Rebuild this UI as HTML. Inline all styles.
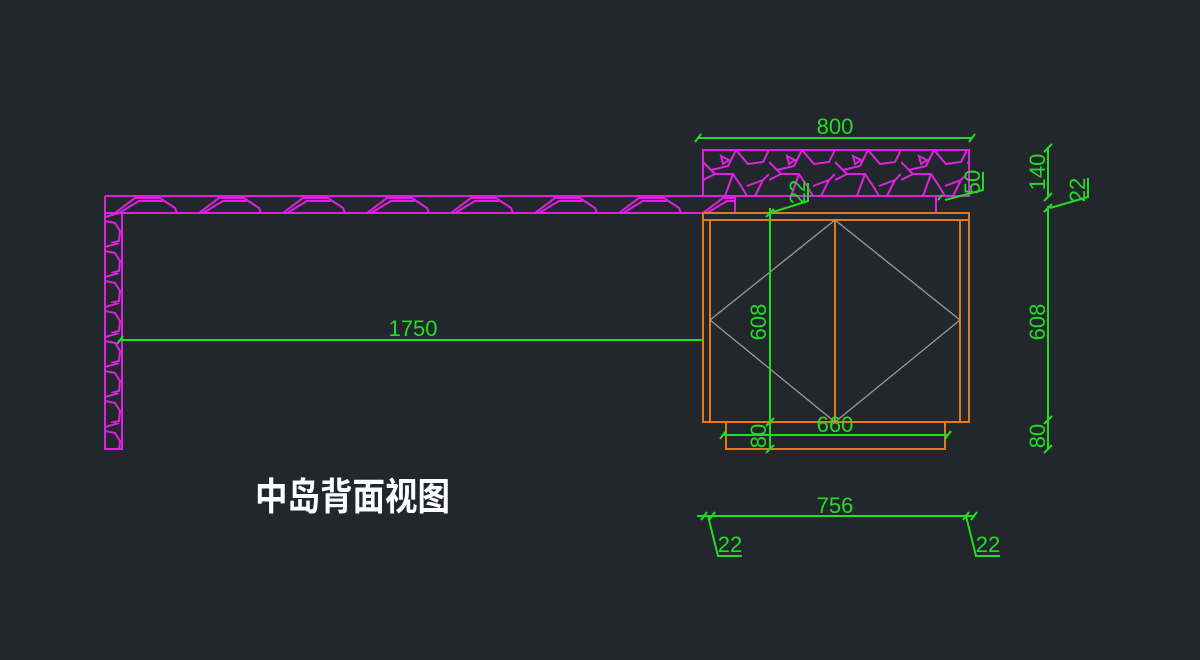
<!DOCTYPE html>
<html><head><meta charset="utf-8"><style>
html,body{margin:0;padding:0;background:#22272e;width:1200px;height:660px;overflow:hidden}
svg{display:block}
.g{stroke:#22dd22;stroke-width:2;fill:none}
.gt{fill:#22dd22;font-family:"Liberation Sans",sans-serif;font-size:22px}
.m{stroke:#dd22dd;stroke-width:2;fill:none}
.o{stroke:#e07a1c;stroke-width:2;fill:none}
</style></head><body>
<svg width="1200" height="660" viewBox="0 0 1200 660">
<defs>
<pattern id="lp" x="105" y="196" width="84" height="17" patternUnits="userSpaceOnUse">
<path class="m" d="M10 17 L30 2 L55 2 L70 12 L72 17 M14 17 L34 5 L58 5 M84 0 L84 0" stroke-width="1.6"/>
</pattern>
<pattern id="tp" x="703" y="150" width="66" height="46" patternUnits="userSpaceOnUse">
<path class="m" stroke-width="1.6" d="M0 12 L8 20 L25 16 L33 0 M33 0 L45 14 L60 12 L66 0 M0 30 L12 24 L30 24 L38 36 L44 46 M30 24 L22 46 M44 36 L60 30 L66 24 M52 46 L60 30 M8 20 L12 24 M18 6 L26 10 L20 14 Z"/>
</pattern>
<pattern id="vp" x="105" y="213" width="17" height="30" patternUnits="userSpaceOnUse">
<path class="m" stroke-width="1.6" d="M0 4 L14 0 M0 8 L10 10 L15 18 L14 28 L6 30"/>
</pattern>
</defs>
<!-- magenta countertop -->
<rect x="105" y="196" width="630" height="17" fill="url(#lp)"/>
<path class="m" d="M105 196 H703 M105 213 H735 V196 M105 196 V449 H122 V213"/>
<rect x="105" y="213" width="17" height="236" fill="url(#vp)"/>
<rect x="703" y="150" width="266" height="46" fill="url(#tp)"/>
<rect class="m" x="703" y="150" width="266" height="46"/>
<path class="m" d="M936 196 V213 M703 196 H936"/>
<!-- orange cabinet -->
<rect class="o" x="703" y="213" width="266" height="7"/>
<path class="o" d="M703 220 V422 H969 V220 M710 220 V422 M960 220 V422 M835 220 V422"/>
<rect class="o" x="726" y="422" width="219" height="27"/>
<path d="M835 220 L960 320 L835 422 L710 320 Z" stroke="#999" stroke-width="1.3" fill="none"/>
<!-- dimensions -->
<path class="g" d="M698 138 H972 M695 142 L701 134 M969 142 L975 134"/>
<text class="gt" x="835" y="134" text-anchor="middle">800</text>
<path class="g" d="M120 340 H703 M117 344 L123 336"/>
<text class="gt" x="413" y="336" text-anchor="middle">1750</text>
<path class="g" d="M770 208 V449 M766 217 L774 209 M766 426 L774 418 M766 453 L774 445 M770 213 L808 201 V183"/>
<text class="gt" transform="translate(766,322) rotate(-90)" text-anchor="middle">608</text>
<text class="gt" transform="translate(766,436) rotate(-90)" text-anchor="middle">80</text>
<text class="gt" transform="translate(805,192) rotate(-90)" text-anchor="middle">22</text>
<path class="g" d="M723 435 H948 M720 439 L726 431 M945 439 L951 431"/>
<text class="gt" x="835" y="432" text-anchor="middle">660</text>
<path class="g" d="M945 200 L983 190 V172 M938 200 L942 195"/>
<text class="gt" transform="translate(980,182) rotate(-90)" text-anchor="middle">50</text>
<path class="g" d="M1048 147 V197 M1048 206 V450 M1044 152 L1052 144 M1044 201 L1052 193 M1044 212 L1052 204 M1044 424 L1052 416 M1044 453 L1052 445 M1050 208 L1088 197 V178"/>
<text class="gt" transform="translate(1045,172) rotate(-90)" text-anchor="middle">140</text>
<text class="gt" transform="translate(1085,190) rotate(-90)" text-anchor="middle">22</text>
<text class="gt" transform="translate(1045,322) rotate(-90)" text-anchor="middle">608</text>
<text class="gt" transform="translate(1045,436) rotate(-90)" text-anchor="middle">80</text>
<path class="g" d="M697 516 H975 M701 520 L707 512 M709 520 L715 512 M963 520 L969 512 M971 520 L977 512 M708 516 L718 556 H742 M966 516 L976 556 H1000"/>
<text class="gt" x="835" y="513" text-anchor="middle">756</text>
<text class="gt" x="730" y="552" text-anchor="middle">22</text>
<text class="gt" x="988" y="552" text-anchor="middle">22</text>
<!-- title -->
<text x="255" y="510" textLength="195" lengthAdjust="spacingAndGlyphs" fill="#fff" font-weight="bold" font-size="38" font-family="'Liberation Sans','Noto Sans CJK SC',sans-serif">中岛背面视图</text>
</svg>
</body></html>
